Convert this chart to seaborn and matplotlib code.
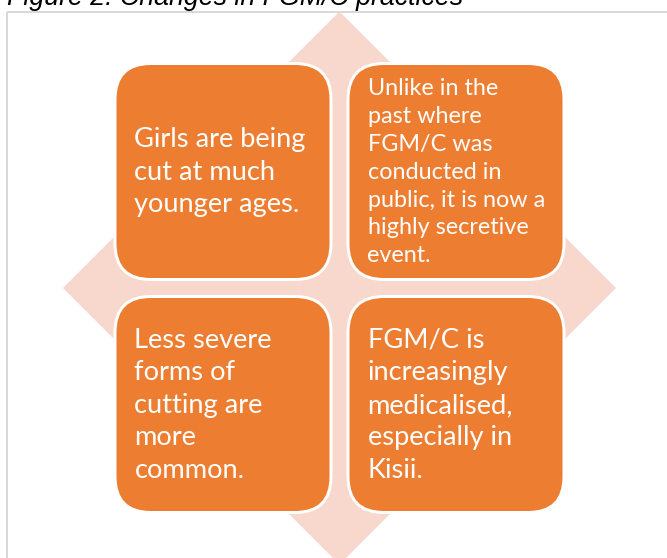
import matplotlib
matplotlib.use('Agg')
import matplotlib.pyplot as plt
from matplotlib.patches import FancyBboxPatch, Polygon, Rectangle
import seaborn as sns

sns.set_style('white')

TITLE = "Figure 2: Changes in FGM/C practices"

# one entry per quadrant: top-left, top-right, bottom-left, bottom-right
quadrant_rows = [0, 0, 1, 1]
quadrant_cols = [0, 1, 0, 1]
quadrant_lines = [
    ["Girls are being", "cut at much", "younger ages."],
    ["Unlike in the", "past where", "FGM/C was", "conducted in",
     "public, it is now a", "highly secretive", "event."],
    ["Less severe", "forms of", "cutting are", "more", "common."],
    ["FGM/C is", "increasingly", "medicalised,", "especially in", "Kisii."],
]
quadrant_font_px = [27.2, 23.4, 27.2, 27.2]
quadrant_line_px = [32.5, 27.8, 32.5, 32.5]

ORANGE = "#ED7D31"
PINK = "#F8D8CD"
BORDER = "#D9D9D9"

W, H = 667, 558
PX = 0.72  # points per pixel at dpi 100

fig = plt.figure(figsize=(W / 100, H / 100), dpi=100)
ax = fig.add_axes([0, 0, 1, 1])
ax.set_xlim(0, W)
ax.set_ylim(H, 0)
ax.axis('off')

# frame around the diagram
ax.add_patch(Rectangle((7, 12), 700, 600, fill=False, edgecolor=BORDER, linewidth=2 * PX))

# title, cut off at the top edge of the picture
ax.text(7, 5, TITLE, fontsize=26.8 * PX, style='italic', family='Liberation Sans',
        color='black', va='baseline', ha='left')

# background diamond
cx, cy, half = 339.5, 288, 276.5
ax.add_patch(Polygon([(cx, cy - half), (cx + half, cy), (cx, cy + half), (cx - half, cy)],
                     closed=True, facecolor=PINK, edgecolor='none'))

box, gap = 213, 20
left0 = cx - gap / 2 - box
top0 = cy - gap / 2 - box
for row, col, lines, fpx, lpx in zip(quadrant_rows, quadrant_cols, quadrant_lines,
                                     quadrant_font_px, quadrant_line_px):
    x0 = left0 + col * (box + gap)
    y0 = top0 + row * (box + gap)
    ax.add_patch(FancyBboxPatch((x0 - 1.5, y0 - 1.5), box + 3, box + 3,
                                boxstyle="round,pad=0,rounding_size=36",
                                facecolor=ORANGE, edgecolor='white', linewidth=3 * PX))
    mid = y0 + box / 2 + lpx * 0.26
    n = len(lines)
    for i, line in enumerate(lines):
        ax.text(x0 + 18, mid + (i - (n - 1) / 2) * lpx, line,
                fontsize=fpx * PX, family='Lato', color='white',
                va='baseline', ha='left')

fig.savefig('out.png', dpi=100)
plt.close(fig)
